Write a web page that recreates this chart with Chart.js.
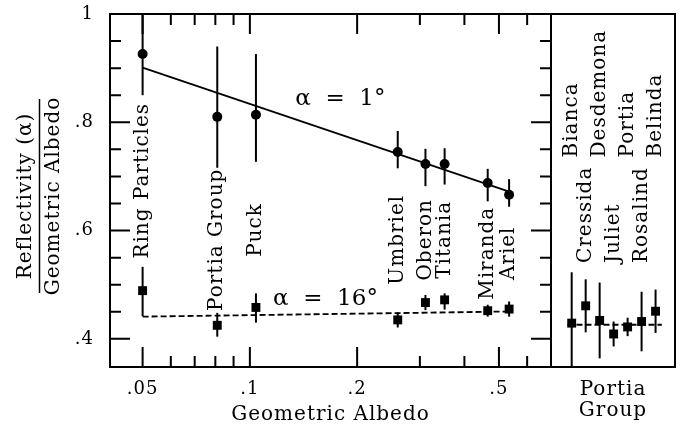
<!DOCTYPE html>
<html>
<head>
<meta charset="utf-8">
<script src="https://cdn.jsdelivr.net/npm/chart.js@4/dist/chart.umd.min.js"></script>
<style>
  html, body { margin: 0; padding: 0; background: #fff; }
  #wrap { position: relative; width: 684px; height: 427px; }
  #wrap canvas { position: absolute; left: 0; top: 0; }
</style>
</head>
<body>
<div id="wrap">
  <canvas id="albedoChart" width="684" height="427"></canvas>
  <canvas id="portiaChart" width="684" height="427"></canvas>
</div>
<script>
// ── Satellites / rings vs geometric albedo ────────────────────
const bodies  = ["Ring Particles", "Portia Group", "Puck", "Umbriel", "Oberon", "Titania", "Miranda", "Ariel"];
const albedo  = [0.050, 0.081, 0.104, 0.260, 0.311, 0.352, 0.465, 0.534];

// alpha = 1 deg
const refl1     = [0.926, 0.810, 0.814, 0.745, 0.723, 0.723, 0.688, 0.666];
const refl1Up   = [0.075, 0.130, 0.112, 0.039, 0.028, 0.029, 0.026, 0.029];
const refl1Down = [0.076, 0.094, 0.087, 0.030, 0.041, 0.038, 0.034, 0.022];

// alpha = 16 deg
const refl16     = [0.489, 0.425, 0.458, 0.435, 0.467, 0.472, 0.452, 0.455];
const refl16Up   = [0.044, 0.023, 0.026, 0.014, 0.014, 0.012, 0.011, 0.014];
const refl16Down = [0.047, 0.021, 0.028, 0.014, 0.014, 0.018, 0.011, 0.014];

// straight-line fits (log albedo)
const fit1X  = [0.050, 0.534];
const fit1Y  = [0.901, 0.672];
const fit16X = [0.050, 0.534];
const fit16Y = [0.441, 0.4505];

// ── Portia group moons ────────────────────────────────────────
const moons     = ["Bianca", "Cressida", "Desdemona", "Juliet", "Portia", "Rosalind", "Belinda"];
const moonRefl  = [0.429, 0.461, 0.434, 0.409, 0.422, 0.432, 0.451];
const moonErr   = [0.094, 0.049, 0.070, 0.023, 0.017, 0.055, 0.040];
const moonMean  = 0.426;
const moonRow   = [0, 1, 0, 1, 0, 1, 0];   // 0 = upper label row, 1 = lower

// ── Axes ──────────────────────────────────────────────────────
const xTicks      = [0.05, 0.06, 0.07, 0.08, 0.09, 0.1, 0.2, 0.3, 0.4, 0.5, 0.6];
const xTickLabels = { 0.05: ".05", 0.1: ".1", 0.2: ".2", 0.5: ".5" };
const yTicks      = [0.4, 0.45, 0.5, 0.55, 0.6, 0.65, 0.7, 0.75, 0.8, 0.85, 0.9, 0.95, 1.0];
const yTickLabels = { 0.4: ".4", 0.6: ".6", 0.8: ".8", 1: "1" };
const Y_MIN = 0.348, Y_MAX = 1.0;

const FONT = "'DejaVu Serif', serif";
const INK = "#000";
Chart.defaults.font.family = FONT;
Chart.defaults.color = INK;

/* ── helpers ───────────────────────────────────────────────*/
function vText(ctx, text, x, y, align) {
  ctx.save();
  ctx.translate(x, y);
  ctx.rotate(-Math.PI / 2);
  ctx.textAlign = align || "center";
  ctx.textBaseline = "middle";
  ctx.fillText(text, 0, 0);
  ctx.restore();
}

function drawErrorBars(chart) {
  const { ctx, chartArea: a, scales } = chart;
  ctx.save();
  ctx.beginPath();
  ctx.rect(a.left, a.top, a.right - a.left, a.bottom - a.top);
  ctx.clip();
  ctx.strokeStyle = INK;
  ctx.lineWidth = 2;
  chart.data.datasets.forEach(ds => {
    if (!ds.errUp) return;
    ds.data.forEach((p, i) => {
      const x = scales.x.getPixelForValue(p.x);
      ctx.beginPath();
      ctx.moveTo(x, scales.y.getPixelForValue(p.y + ds.errUp[i]));
      ctx.lineTo(x, scales.y.getPixelForValue(p.y - ds.errDown[i]));
      ctx.stroke();
    });
  });
  ctx.restore();
}

function drawBox(chart) {
  const { ctx, chartArea: a } = chart;
  ctx.save();
  ctx.strokeStyle = INK;
  ctx.lineWidth = 2;
  ctx.strokeRect(a.left, a.top, a.right - a.left, a.bottom - a.top);
  ctx.restore();
}

const spaced = { id: "spaced", beforeDraw(chart) { chart.ctx.letterSpacing = "1px"; } };

/* ── left panel plugin: ticks, labels, y title ─────────────*/
const albedoDecor = {
  id: "albedoDecor",
  beforeDatasetsDraw(chart) { drawErrorBars(chart); },
  afterDraw(chart) {
    const { ctx, chartArea: a, scales: { x, y } } = chart;
    drawBox(chart);

    // inward tick marks on all four sides
    ctx.save();
    ctx.strokeStyle = INK;
    ctx.lineWidth = 2;
    ctx.beginPath();
    xTicks.forEach(v => {
      const px = x.getPixelForValue(v);
      const len = xTickLabels[v] ? 20 : 11;
      ctx.moveTo(px, a.bottom); ctx.lineTo(px, a.bottom - len);
      ctx.moveTo(px, a.top);    ctx.lineTo(px, a.top + len);
    });
    yTicks.forEach(v => {
      const py = y.getPixelForValue(v);
      const len = yTickLabels[v] ? 20 : 11;
      ctx.moveTo(a.left, py);  ctx.lineTo(a.left + len, py);
      ctx.moveTo(a.right, py); ctx.lineTo(a.right - len, py);
    });
    ctx.stroke();
    ctx.restore();

    // body names, written bottom to top
    ctx.save();
    ctx.fillStyle = INK;
    ctx.font = "20px " + FONT;
    const nameY = [0.692, 0.583, 0.601, 0.583, 0.583, 0.583, 0.558, 0.558];
    bodies.forEach((name, i) => {
      vText(ctx, name, x.getPixelForValue(albedo[i]), y.getPixelForValue(nameY[i]));
    });

    // phase angle notes
    ctx.font = "23px " + FONT;
    ctx.letterSpacing = "0px";
    ctx.textAlign = "center";
    ctx.textBaseline = "middle";
    ctx.fillText("\u03b1  =  1\u00b0", x.getPixelForValue(0.1795), y.getPixelForValue(0.843));
    ctx.fillText("\u03b1  =  16\u00b0", x.getPixelForValue(0.163), y.getPixelForValue(0.473));

    // y title as a fraction
    ctx.font = "20px " + FONT;
    ctx.letterSpacing = "1px";
    vText(ctx, "Reflectivity (\u03b1)", 26, 196);
    vText(ctx, "Geometric Albedo", 54, 196);
    ctx.lineWidth = 1.5;
    ctx.beginPath();
    ctx.moveTo(39.5, 99); ctx.lineTo(39.5, 293);
    ctx.stroke();
    ctx.restore();
  }
};

/* ── right panel plugin ────────────────────────────────────*/
const portiaDecor = {
  id: "portiaDecor",
  beforeDatasetsDraw(chart) { drawErrorBars(chart); },
  afterDraw(chart) {
    const { ctx, chartArea: a, scales: { x, y } } = chart;
    drawBox(chart);
    ctx.save();
    ctx.fillStyle = INK;
    ctx.font = "20px " + FONT;
    const rowStart = [0.735, 0.540];
    moons.forEach((name, i) => {
      vText(ctx, name, x.getPixelForValue(i), y.getPixelForValue(rowStart[moonRow[i]]), "left");
    });
    ctx.textAlign = "center";
    ctx.textBaseline = "middle";
    const cx = (a.left + a.right) / 2;
    ctx.fillText("Portia", cx, a.bottom + 23);
    ctx.fillText("Group", cx, a.bottom + 44);
    ctx.restore();
  }
};

/* ── left chart ────────────────────────────────────────────*/
const pts = (xs, ys) => xs.map((v, i) => ({ x: v, y: ys[i] }));

new Chart(document.getElementById("albedoChart"), {
  type: "scatter",
  data: {
    datasets: [
      {
        label: "fit 1",
        type: "line",
        data: pts(fit1X, fit1Y),
        borderColor: INK, borderWidth: 1.8, pointRadius: 0, fill: false
      },
      {
        label: "fit 16",
        type: "line",
        data: pts(fit16X, fit16Y),
        borderColor: INK, borderWidth: 1.8, borderDash: [6, 3], pointRadius: 0, fill: false
      },
      {
        label: "alpha 1",
        data: pts(albedo, refl1),
        errUp: refl1Up, errDown: refl1Down,
        pointStyle: "circle", pointRadius: 5, backgroundColor: INK, borderWidth: 0
      },
      {
        label: "alpha 16",
        data: pts(albedo, refl16),
        errUp: refl16Up, errDown: refl16Down,
        pointStyle: "rect", pointRadius: 6.3, backgroundColor: INK, borderWidth: 0
      }
    ]
  },
  options: {
    responsive: false,
    animation: false,
    layout: { padding: { top: 14, right: 133, left: 0, bottom: 0 } },
    plugins: { legend: { display: false }, tooltip: { enabled: false } },
    scales: {
      x: {
        type: "logarithmic",
        min: 0.0405, max: 0.70,
        grid: { display: false, drawTicks: false },
        border: { display: false },
        afterBuildTicks: s => { s.ticks = xTicks.map(v => ({ value: v })); },
        afterFit: s => { s.height = 60; s.paddingLeft = 0; s.paddingRight = 0; },
        ticks: {
          autoSkip: false, maxRotation: 0, padding: 12,
          font: { size: 18 },
          callback: v => xTickLabels[v] || ""
        },
        title: { display: true, text: "Geometric Albedo", font: { size: 20 }, padding: { top: 0, bottom: 0 } }
      },
      y: {
        min: Y_MIN, max: Y_MAX,
        grid: { display: false, drawTicks: false },
        border: { display: false },
        afterBuildTicks: s => { s.ticks = yTicks.map(v => ({ value: v })); },
        afterFit: s => { s.width = 110; s.paddingTop = 0; s.paddingBottom = 0; },
        ticks: {
          autoSkip: false, padding: 16,
          font: { size: 18 },
          callback: v => yTickLabels[Math.round(v * 100) / 100] || ""
        }
      }
    }
  },
  plugins: [spaced, albedoDecor]
});

/* ── right chart ───────────────────────────────────────────*/
new Chart(document.getElementById("portiaChart"), {
  type: "scatter",
  data: {
    datasets: [
      {
        label: "mean",
        type: "line",
        data: [{ x: -0.3, y: moonMean }, { x: 6.45, y: moonMean }],
        borderColor: INK, borderWidth: 1.8, borderDash: [6, 3], pointRadius: 0, fill: false
      },
      {
        label: "moons",
        data: moonRefl.map((v, i) => ({ x: i, y: v })),
        errUp: moonErr, errDown: moonErr,
        pointStyle: "rect", pointRadius: 6.3, backgroundColor: INK, borderWidth: 0
      }
    ]
  },
  options: {
    responsive: false,
    animation: false,
    layout: { padding: { top: 14, right: 9, left: 551, bottom: 60 } },
    plugins: { legend: { display: false }, tooltip: { enabled: false } },
    scales: {
      x: { type: "linear", min: -1.48, max: 7.39, display: false },
      y: { min: Y_MIN, max: Y_MAX, display: false }
    }
  },
  plugins: [spaced, portiaDecor]
});
</script>
</body>
</html>
